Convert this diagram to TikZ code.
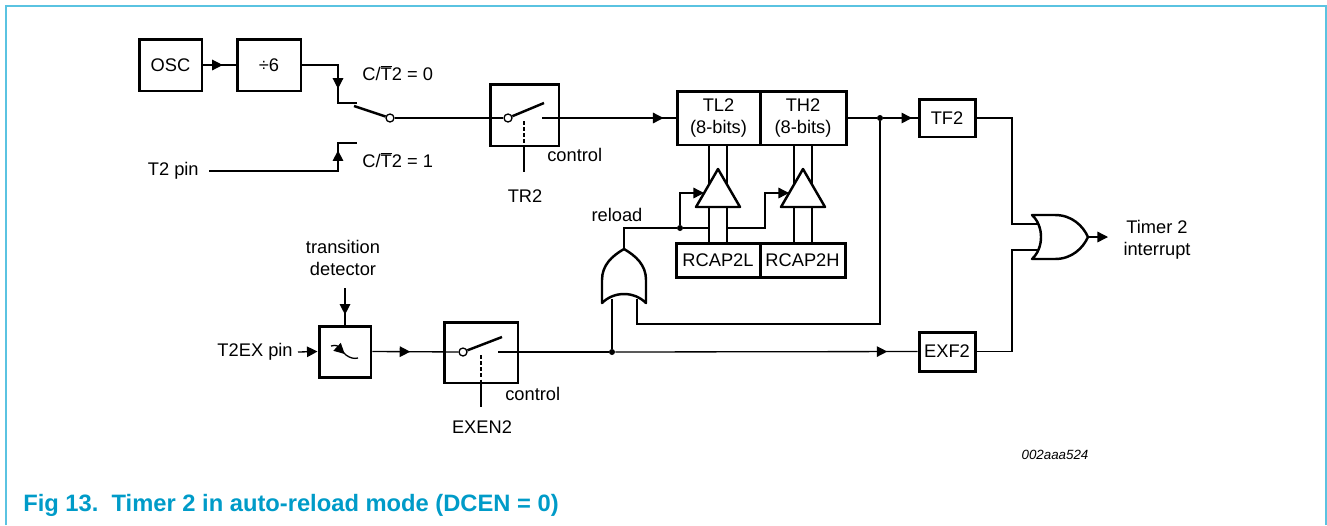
\documentclass[tikz,border=0pt]{standalone}
\usepackage{fontspec}
\setmainfont{Liberation Sans}
\usepackage{tikz}
\usetikzlibrary{arrows.meta,decorations.markings}
\definecolor{framecol}{RGB}{90,195,225}
\definecolor{capcol}{RGB}{0,155,200}
\newcommand{\CT}{C/$\overline{\hbox{T}}$2}

\begin{document}
\begin{tikzpicture}[x=0.02cm, y=-0.02cm, >={Triangle[length=6pt,width=6pt]}]
      \tikzstyle{wire} = [line width=0.75pt]
      \tikzstyle{flow} = [postaction={decorate}, decoration={markings, mark=at position #1 with {\arrow{>}}}]
      \tikzstyle{block} = [rectangle, draw=black, line width=1.7pt, inner sep=0pt, align=center, font=\fontsize{10.4}{12.6}\selectfont]
      \tikzstyle{txt} = [inner sep=0pt, align=center, font=\fontsize{10.4}{12.6}\selectfont]
      \tikzstyle{pivot} = [circle, draw=black, line width=0.75pt, fill=white, minimum size=0.16cm, inner sep=0pt]
      \tikzstyle{dot} = [circle, fill=black, minimum size=0.12cm, inner sep=0pt]
      \tikzstyle{lever} = [line width=1.4pt]
      \tikzstyle{gate} = [draw=black, line width=1.4pt, fill=white, line join=round]

      \useasboundingbox (0,0) rectangle (1327,525);
      \draw [framecol, line width=1.2pt] (6,525) -- (6,6) -- (1326,6) -- (1326,525);

      % clock source
      \node (osc) [block, minimum width=1.26cm, minimum height=1.04cm] at (170.5,65) {OSC};
      \node (div) [block, minimum width=1.28cm, minimum height=1.04cm] at (269,65) {÷6};
      \draw [wire, flow=0.6] (osc) -- (div);
      \node (t2pin) [txt, anchor=east, inner xsep=0.2cm] at (209,171) {T2 pin};

      % C/T2 select switch
      \coordinate (k0) at (338,103);
      \coordinate (k1) at (338,143);
      \coordinate (c0) at (357,103);
      \coordinate (c1) at (357,143);
      \coordinate (lv) at (354,106);
      \node (piv) [pivot] at (390,118) {};
      \draw [wire, flow=0.64] (div.east) -| (k0) -- (c0);
      \draw [wire, flow=0.85] (t2pin.east) -| (k1) -- (c1);
      \draw [lever] (lv) -- (piv);
      \node (ct0) [txt, anchor=west] at (362,73) {\CT{} = 0};
      \node (ct1) [txt, anchor=west] at (362,160) {\CT{} = 1};

      % TR2 switch
      \node (tr2) [block, minimum width=1.38cm, minimum height=1.24cm] at (524.5,115) {};
      \node (tr2piv) [pivot] at (508,118) {};
      \coordinate (tr2lv) at (544,103);
      \coordinate (tr2out) at (542,118);
      \coordinate (tr2c) at (524,121);
      \coordinate (tr2end) at (524,172);
      \draw [wire] (piv) -- (tr2piv);
      \draw [lever] (tr2piv) -- (tr2lv);
      \draw [wire, dash pattern=on 2pt off 1.5pt] (tr2c) -- (tr2.south -| tr2c);
      \draw [wire] (tr2.south -| tr2c) -- (tr2end);
      \node (tr2ctl) [txt, anchor=west] at (547,155) {control};
      \node (tr2lbl) [txt] at (525,196) {TR2};

      % counter and reload registers
      \node (tl2) [block, minimum width=1.66cm, minimum height=1.08cm] at (718.5,118) {TL2\\(8-bits)};
      \node (th2) [block, minimum width=1.72cm, minimum height=1.08cm] at (803,118) {TH2\\(8-bits)};
      \node (rcapl) [block, minimum width=1.68cm, minimum height=0.68cm] at (718,260) {RCAP2L};
      \node (rcaph) [block, minimum width=1.70cm, minimum height=0.68cm] at (802.5,260) {RCAP2H};
      \draw [wire, flow=0.91] (tr2out) -- (tl2.west);

      \foreach \cx in {718, 803}
      {
        \draw [wire] (\cx-9,145) -- (\cx-9,184.5);
        \draw [wire] (\cx+9,145) -- (\cx+9,184.5);
        \draw [wire] (\cx-9,207) -- (\cx-9,243);
        \draw [wire] (\cx+9,207) -- (\cx+9,243);
        \draw [gate, fill=none] (\cx,169) -- (\cx+22,207) -- (\cx-22,207) -- cycle;
      }

      % reload path
      \coordinate (rtip) at (624,249);
      \coordinate (rin1) at (612,299);
      \coordinate (rin2) at (637,299);
      \coordinate (fb) at (637,324);
      \node (rdot) [dot] at (680,228) {};
      \node (rlbl) [txt] at (617,215) {reload};
      \draw [wire] (rtip) |- (rdot);
      \draw [wire] (rdot) -- (709,228);
      \draw [wire, ->] (727,228) -| (765,193) -- (789,193);
      \draw [wire, ->] (rdot) |- (704,193);

      % overflow flag
      \node (tf2) [block, minimum width=1.12cm, minimum height=0.76cm] at (947,118) {TF2};
      \node (tdot) [dot] at (880,118) {};
      \draw [wire] (th2.east) -- (tdot);
      \draw [wire, flow=0.84] (tdot) -- (tf2.west);
      \draw [wire] (tdot) |- (fb) -- (rin2);

      % external trigger
      \node (t2ex) [txt, anchor=east, inner xsep=0.1cm] at (298,352) {T2EX pin};
      \node (tdet) [block, minimum width=1.04cm, minimum height=1.02cm] at (345,351.5) {};
      \node (tdlbl) [txt] at (343,258) {transition\\detector};
      \coordinate (tdin) at (345,288);
      \draw [wire, ->] (t2ex.east) -- (tdet.west);
      \draw [wire, flow=0.73] (tdin) -- (tdet.north);
      \draw [wire, flow=0.55] (331,346) .. controls (341,343) and (341,352) .. (346,355) .. controls (350,358) and (354,359) .. (358,358);

      % EXEN2 switch
      \node (exen) [block, minimum width=1.48cm, minimum height=1.22cm] at (481,352.5) {};
      \node (expiv) [pivot] at (463,352) {};
      \coordinate (exlv) at (502,337);
      \coordinate (exout) at (498,352);
      \coordinate (exc) at (481,355);
      \coordinate (exend) at (481,407);
      \draw [wire, flow=0.44] (tdet.east) -- (expiv);
      \draw [lever] (expiv) -- (exlv);
      \draw [wire, dash pattern=on 2pt off 1.5pt] (exc) -- (exen.south -| exc);
      \draw [wire] (exen.south -| exc) -- (exend);
      \node (exctl) [txt, anchor=west] at (505,394) {control};
      \node (exlbl) [txt] at (482,427) {EXEN2};

      % external flag
      \node (exf2) [block, minimum width=1.12cm, minimum height=0.78cm] at (947,351.5) {EXF2};
      \node (jdot) [dot] at (612,352) {};
      \draw [wire] (exout) -- (jdot);
      \draw [wire, flow=0.9] (jdot) -- (exf2.west);
      \draw [wire] (jdot) -- (rin1);

      % reload gate
      \draw [gate] (602,303) -- (602,280) .. controls (602,265) and (612,256) .. (rtip) .. controls (636,256) and (646,265) .. (646,280) -- (646,303) .. controls (634,291) and (614,291) .. (602,303) -- cycle;

      % interrupt gate
      \coordinate (m1) at (1012,224);
      \coordinate (m2) at (1012,250);
      \coordinate (oin1) at (1040,224);
      \coordinate (oin2) at (1040,250);
      \coordinate (otip) at (1088,237);
      \coordinate (oout) at (1108,237);
      \draw [wire] (tf2.east) -| (m1) -- (oin1);
      \draw [wire] (exf2.east) -| (m2) -- (oin2);
      \draw [gate] (1032,215) -- (1055,215) .. controls (1072,215) and (1083,226) .. (otip) .. controls (1083,248) and (1072,259) .. (1055,259) -- (1032,259) .. controls (1044,248) and (1044,226) .. (1032,215) -- cycle;
      \draw [wire, ->] (otip) -- (oout);
      \node (irq) [txt] at (1157,240) {Timer 2\\interrupt};

      \node (code) [inner sep=0pt, font=\fontsize{7.6}{9}\selectfont\itshape] at (1055,455) {002aaa524};
      \node (cap) [anchor=west, inner sep=0pt, text=capcol, font=\fontsize{13.5}{16}\selectfont\bfseries] at (23,505) {Fig 13.\ \ Timer 2 in auto-reload mode (DCEN = 0)};
\end{tikzpicture}
\end{document}
